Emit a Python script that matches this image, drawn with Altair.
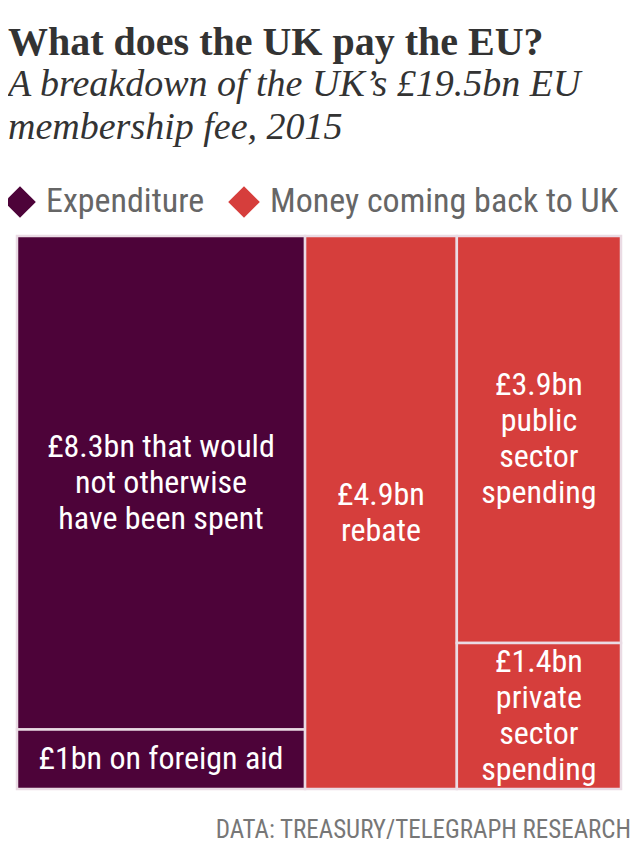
import altair as alt
import pandas as pd

# ---- data ----
groups = ["Expenditure", "Expenditure", "Money coming back to UK",
          "Money coming back to UK", "Money coming back to UK"]
columns = [0, 0, 1, 2, 2]          # treemap column each cell belongs to
values = [8.3, 1.0, 4.9, 3.9, 1.4]  # £bn
labels = [
    "£8.3bn that would\nnot otherwise\nhave been spent",
    "£1bn on foreign aid",
    "£4.9bn\nrebate",
    "£3.9bn\npublic\nsector\nspending",
    "£1.4bn\nprivate\nsector\nspending",
]
legend_order = ["Expenditure", "Money coming back to UK"]
legend_colors = ["#4d0339", "#d63e3c"]

PLOT_W, PLOT_H = 604, 553
LINE_H = 36

# ---- slice-and-dice treemap layout computed from the values ----
df = pd.DataFrame({"group": groups, "col": columns, "value": values, "label": labels})
col_tot = df.groupby("col")["value"].sum()
col_start = col_tot.cumsum() - col_tot
df["x0"] = df["col"].map(col_start)
df["x1"] = df["x0"] + df["col"].map(col_tot)
df["cum"] = df.groupby("col")["value"].cumsum()
df["y1"] = df["cum"] / df["col"].map(col_tot)
df["y0"] = df["y1"] - df["value"] / df["col"].map(col_tot)
df["xc"] = (df["x0"] + df["x1"]) / 2
# first text line sits above the cell centre so the block is centred
nlines = df["label"].str.count("\n")
df["yc"] = (df["y0"] + df["y1"]) / 2 - nlines * LINE_H / 2 / PLOT_H
total = float(sum(values))

xs = alt.Scale(domain=[0, total], nice=False, zero=False)
ys = alt.Scale(domain=[0, 1], reverse=True, nice=False)

LABEL_FONT = "Roboto Condensed, Roboto, sans-serif"

rects = alt.Chart(df).mark_rect(stroke="#eadbe4", strokeWidth=2.5).encode(
    x=alt.X("x0:Q", scale=xs, axis=None),
    x2="x1:Q",
    y=alt.Y("y0:Q", scale=ys, axis=None),
    y2="y1:Q",
    color=alt.Color(
        "group:N",
        scale=alt.Scale(domain=legend_order, range=legend_colors),
        legend=alt.Legend(
            title=None, orient="none", direction="horizontal",
            legendX=-14, legendY=-51, padding=0,
            symbolType="diamond", symbolSize=1000, symbolStrokeWidth=0,
            symbolOpacity=1,
            labelFont=LABEL_FONT, labelFontSize=34, labelColor="#666666",
            labelOffset=9, columnPadding=22, labelLimit=420,
        ),
    ),
)

texts = alt.Chart(df).mark_text(
    color="white", font=LABEL_FONT, fontSize=32, lineHeight=LINE_H,
    lineBreak="\n", align="center", baseline="middle",
).encode(
    x=alt.X("xc:Q", scale=xs),
    y=alt.Y("yc:Q", scale=ys),
    text="label:N",
)

source = alt.Chart(pd.DataFrame({"t": ["DATA: TREASURY/TELEGRAPH RESEARCH"]})).mark_text(
    align="right", baseline="middle", font=LABEL_FONT, fontSize=25, color="#777777",
).encode(x=alt.value(614), y=alt.value(594), text="t:N")

chart = alt.layer(rects, texts, source).properties(
    width=PLOT_W,
    height=PLOT_H,
    autosize=alt.AutoSizeParams(type="none"),
    padding={"left": 9, "top": 228, "right": 11, "bottom": 58},
    title=alt.TitleParams(
        text="What does the UK pay the EU?",
        subtitle=["A breakdown of the UK’s £19.5bn EU", "membership fee, 2015"],
        anchor="start", frame="group", dx=-9, offset=38,
        font="Liberation Serif", fontSize=40, fontWeight="bold", color="#333333",
        subtitleFont="Liberation Serif", subtitleFontSize=38, subtitleFontStyle="italic",
        subtitleColor="#333333", subtitleLineHeight=43, subtitlePadding=3,
    ),
).configure_view(stroke=None)

chart.save("out.html", embed_options={"renderer": "svg", "actions": False})
